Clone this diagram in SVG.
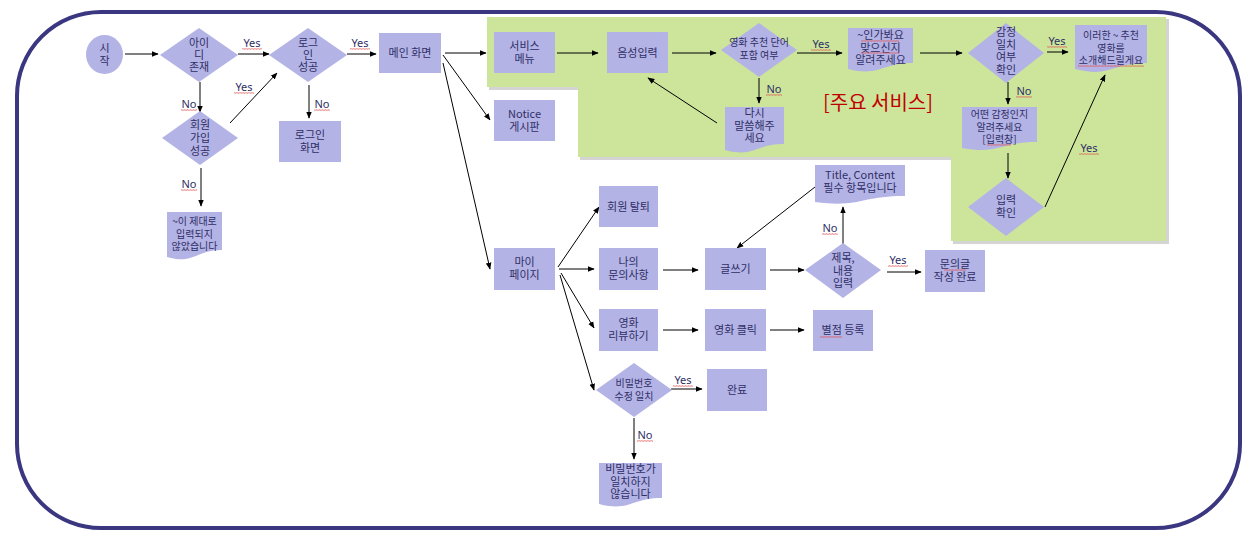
<svg xmlns="http://www.w3.org/2000/svg" width="1260" height="538" viewBox="0 0 1260 538">
<style>
.n{fill:#b4b3e5;}
.t{font-family:"Noto Sans CJK KR","Noto Sans",sans-serif;font-size:11px;fill:#2f2f66;text-anchor:middle;}
.s{font-size:10px;}
.l{font-family:"Noto Sans","Noto Sans CJK KR",sans-serif;font-size:11px;fill:#2f2f66;text-anchor:middle;}
.c{stroke:#000;stroke-width:1;fill:none;marker-end:url(#ah);}
.sq{fill:url(#squig);}
</style>
<defs>
<marker id="ah" viewBox="0 0 10 10" refX="9" refY="5" markerWidth="7" markerHeight="7" orient="auto" markerUnits="userSpaceOnUse">
<path d="M0,1 L10,5 L0,9 z" fill="#000"/>
</marker>
<pattern id="squig" width="3" height="2" patternUnits="userSpaceOnUse">
<path d="M0,1.7 L0.75,0.3 L1.5,1.7 L2.25,0.3 L3,1.7" stroke="#e05050" stroke-width="0.5" fill="none"/>
</pattern>
</defs>
<rect x="0" y="0" width="1260" height="538" fill="#ffffff"/>
<rect x="17" y="12" width="1223" height="516" rx="84" ry="84" fill="#ffffff" stroke="#3a3680" stroke-width="4"/>

<g id="main-service-area">
<path d="M489,19 H1169 V244 H953 V160 H580 V90 H489 Z" fill="#b8b8b8" opacity="0.6"/>
<path d="M487,17 H1166 V241 H951 V157 H578 V87 H487 Z" fill="#cde59b"/>
<text x="878" y="110" style="font-family:'Noto Sans CJK KR','Noto Sans',sans-serif;font-size:20px;fill:#c00000;text-anchor:middle;">[주요 서비스]</text>
</g>

<g id="connectors">
<line class="c" x1="125" y1="54" x2="158" y2="54"/>
<line class="c" x1="238" y1="54" x2="269" y2="54"/>
<line class="c" x1="347" y1="54" x2="376" y2="54"/>
<line class="c" x1="200" y1="82" x2="200" y2="112"/>
<line class="c" x1="230" y1="123" x2="277" y2="73"/>
<line class="c" x1="309" y1="85" x2="309" y2="118"/>
<line class="c" x1="201" y1="168" x2="201" y2="206"/>
<line class="c" x1="445" y1="53" x2="486" y2="53"/>
<line class="c" x1="443" y1="55" x2="490" y2="120"/>
<line class="c" x1="443" y1="63" x2="490" y2="269"/>
<line class="c" x1="557" y1="53" x2="598" y2="53"/>
<line class="c" x1="672" y1="53" x2="716" y2="53"/>
<line class="c" x1="797" y1="53" x2="842" y2="53"/>
<line class="c" x1="759" y1="78" x2="759" y2="103"/>
<line class="c" x1="717" y1="123" x2="648" y2="78"/>
<line class="c" x1="920" y1="53" x2="962" y2="53"/>
<line class="c" x1="1047" y1="52" x2="1068" y2="52"/>
<line class="c" x1="1008" y1="82" x2="1008" y2="104"/>
<line class="c" x1="1008" y1="153" x2="1008" y2="178"/>
<line class="c" x1="1045" y1="207" x2="1105" y2="75"/>
<line class="c" x1="558" y1="267" x2="599" y2="207"/>
<line class="c" x1="559" y1="269" x2="594" y2="269"/>
<line class="c" x1="561" y1="273" x2="594" y2="328"/>
<line class="c" x1="560" y1="275" x2="594" y2="390"/>
<line class="c" x1="663" y1="270" x2="698" y2="270"/>
<line class="c" x1="770" y1="270" x2="804" y2="270"/>
<line class="c" x1="843" y1="244" x2="843" y2="207"/>
<line class="c" x1="815" y1="187" x2="737" y2="248"/>
<line class="c" x1="887" y1="272" x2="921" y2="272"/>
<line class="c" x1="663" y1="330" x2="698" y2="330"/>
<line class="c" x1="770" y1="330" x2="804" y2="330"/>
<line class="c" x1="671" y1="389" x2="702" y2="389"/>
<line class="c" x1="634" y1="418" x2="634" y2="459"/>
</g>

<g id="labels">
<text class="l" x="252" y="47">Yes</text><rect class="sq" x="242" y="48" width="20" height="2"/>
<text class="l" x="244" y="91">Yes</text><rect class="sq" x="234" y="92" width="20" height="2"/>
<text class="l" x="360" y="47">Yes</text><rect class="sq" x="350" y="48" width="20" height="2"/>
<text class="l" x="189" y="108">No</text><rect class="sq" x="181" y="109" width="16" height="2"/>
<text class="l" x="322" y="108">No</text><rect class="sq" x="314" y="109" width="16" height="2"/>
<text class="l" x="189" y="188">No</text><rect class="sq" x="181" y="189" width="16" height="2"/>
<text class="l" x="821" y="48">Yes</text><rect class="sq" x="811" y="49" width="20" height="2"/>
<text class="l" x="774" y="93">No</text><rect class="sq" x="766" y="94" width="16" height="2"/>
<text class="l" x="1057" y="45">Yes</text><rect class="sq" x="1047" y="46" width="20" height="2"/>
<text class="l" x="1024" y="95">No</text><rect class="sq" x="1016" y="96" width="16" height="2"/>
<text class="l" x="1089" y="152">Yes</text><rect class="sq" x="1079" y="153" width="20" height="2"/>
<text class="l" x="830" y="232">No</text><rect class="sq" x="822" y="233" width="16" height="2"/>
<text class="l" x="898" y="264">Yes</text><rect class="sq" x="888" y="265" width="20" height="2"/>
<text class="l" x="683" y="384">Yes</text><rect class="sq" x="673" y="385" width="20" height="2"/>
<text class="l" x="645" y="439">No</text><rect class="sq" x="637" y="440" width="16" height="2"/>
</g>

<g id="start"><ellipse class="n" cx="104.5" cy="54.5" rx="18.5" ry="19.5"/><text class="t" x="104.5" y="52">시<tspan x="104.5" dy="13">작</tspan></text></g>
<g id="id-exists"><path class="n" d="M160,55 L199,28 L238,55 L199,82 Z"/><text class="t" x="199" y="47">아이<tspan x="199" dy="12">디</tspan><tspan x="199" dy="12">존재</tspan></text></g>
<g id="login-ok"><path class="n" d="M269,55 L308,28 L347,55 L308,82 Z"/><text class="t" x="308" y="47">로그<tspan x="308" dy="12">인</tspan><tspan x="308" dy="12">성공</tspan></text></g>
<g id="main-screen"><rect class="n" x="379" y="33" width="62" height="40"/><text class="t" x="410" y="57">메인 화면</text></g>
<g id="signup-ok"><path class="n" d="M162,138 L200,111 L238,138 L200,165 Z"/><text class="t" x="200" y="129">회원<tspan x="200" dy="13">가입</tspan><tspan x="200" dy="13">성공</tspan></text></g>
<g id="login-screen"><rect class="n" x="279" y="121" width="62" height="41"/><text class="t" x="310" y="139">로그인<tspan x="310" dy="13">화면</tspan></text></g>
<g id="signup-fail"><path class="n" d="M167,212 H222 V250 C194.5,250 194.5,265 167,257 Z"/><text class="t s" x="194.5" y="225">~이 제대로<tspan x="194.5" dy="12.5">입력되지</tspan><tspan x="194.5" dy="12.5">않았습니다</tspan></text></g>

<g id="service-menu"><rect class="n" x="494" y="32" width="61" height="41"/><text class="t" x="524.5" y="50">서비스<tspan x="524.5" dy="13">메뉴</tspan></text></g>
<g id="notice"><rect class="n" x="494" y="100" width="61" height="41"/><text class="t" x="524.5" y="118">Notice<tspan x="524.5" dy="13">게시판</tspan></text></g>
<g id="voice-input"><rect class="n" x="607" y="32" width="61" height="41"/><text class="t" x="637.5" y="57">음성입력</text></g>
<g id="keyword-check"><path class="n" d="M721,50 L759,23 L797,50 L759,77 Z"/><text class="t s" x="759" y="46">영화 추천 단어<tspan x="759" dy="13">포함 여부</tspan></text></g>
<g id="say-again"><path class="n" d="M725,107 H784 V144 C754.5,144 754.5,158 725,150 Z"/><text class="t" x="754.5" y="117">다시<tspan x="754.5" dy="12.5">말씀해주</tspan><tspan x="754.5" dy="12.5">세요</tspan></text></g>
<g id="confirm-emotion"><path class="n" d="M848,28 H913 V63 C880.5,63 880.5,77 848,69 Z"/><text class="t" x="880.5" y="39">~인가봐요<tspan x="880.5" dy="12.5">맞으신지</tspan><tspan x="880.5" dy="12.5">알려주세요</tspan></text><rect class="sq" x="861" y="40" width="38" height="2"/><rect class="sq" x="861" y="52" width="38" height="2"/></g>
<g id="emotion-match"><path class="n" d="M968,53 L1006,23 L1044,53 L1006,83 Z"/><text class="t" x="1006" y="36">감정<tspan x="1006" dy="12.5">일치</tspan><tspan x="1006" dy="12.5">여부</tspan><tspan x="1006" dy="12.5">확인</tspan></text></g>
<g id="recommend"><path class="n" d="M1075,25 H1147 V63 C1111,63 1111,78 1075,69 Z"/><text class="t s" x="1111" y="39">이러한 ~ 추천<tspan x="1111" dy="12.5">영화를</tspan><tspan x="1111" dy="12.5">소개해드릴게요</tspan></text><rect class="sq" x="1078" y="65" width="66" height="2"/></g>
<g id="which-emotion"><path class="n" d="M962,107 H1037 V142 C999.5,142 999.5,155 962,148 Z"/><text class="t s" x="999.5" y="118">어떤 감정인지<tspan x="999.5" dy="12.5">알려주세요</tspan><tspan x="999.5" dy="12.5">[입력창]</tspan></text><rect class="sq" x="987" y="144" width="24" height="2"/></g>
<g id="input-check"><path class="n" d="M968,207 L1006,178 L1044,207 L1006,236 Z"/><text class="t" x="1006" y="204">입력<tspan x="1006" dy="13">확인</tspan></text></g>

<g id="mypage"><rect class="n" x="494" y="248" width="61" height="42"/><text class="t" x="524.5" y="266">마이<tspan x="524.5" dy="13">페이지</tspan></text></g>
<g id="withdraw"><rect class="n" x="599" y="186" width="59" height="41"/><text class="t" x="628.5" y="211">회원 탈퇴</text></g>
<g id="my-inquiry"><rect class="n" x="599" y="248" width="59" height="42"/><text class="t" x="628.5" y="266">나의<tspan x="628.5" dy="13">문의사항</tspan></text></g>
<g id="write"><rect class="n" x="705" y="248" width="61" height="42"/><text class="t" x="735.5" y="273">글쓰기</text></g>
<g id="title-content-check"><path class="n" d="M805,270 L843,243 L881,270 L843,298 Z"/><text class="t" x="843" y="262">제목,<tspan x="843" dy="12.5">내용</tspan><tspan x="843" dy="12.5">입력</tspan></text></g>
<g id="required"><path class="n" d="M815,165 H905 V196 C860,196 860,208 815,202 Z"/><text class="t" x="860" y="179">Title, Content<tspan x="860" dy="13">필수 항목입니다</tspan></text></g>
<g id="inquiry-done"><rect class="n" x="925" y="250" width="60" height="42"/><text class="t" x="955" y="268">문의글<tspan x="955" dy="13">작성 완료</tspan></text><rect class="sq" x="944" y="269" width="22" height="2"/></g>
<g id="movie-review"><rect class="n" x="599" y="309" width="59" height="42"/><text class="t" x="628.5" y="327">영화<tspan x="628.5" dy="13">리뷰하기</tspan></text></g>
<g id="movie-click"><rect class="n" x="705" y="309" width="61" height="42"/><text class="t" x="735.5" y="334">영화 클릭</text></g>
<g id="rating"><rect class="n" x="813" y="310" width="60" height="41"/><text class="t" x="843" y="334">별점 등록</text><rect class="sq" x="820" y="336" width="22" height="2"/></g>
<g id="pw-match"><path class="n" d="M596,390 L634,363 L672,390 L634,417 Z"/><text class="t s" x="634" y="387">비밀번호<tspan x="634" dy="13">수정 일치</tspan></text></g>
<g id="done"><rect class="n" x="707" y="369" width="60" height="42"/><text class="t" x="737" y="394">완료</text></g>
<g id="pw-mismatch"><path class="n" d="M599,463 H662 V498 C630.5,498 630.5,512 599,504 Z"/><text class="t" x="630.5" y="473">비밀번호가<tspan x="630.5" dy="12.5">일치하지</tspan><tspan x="630.5" dy="12.5">않습니다</tspan></text></g>
</svg>
